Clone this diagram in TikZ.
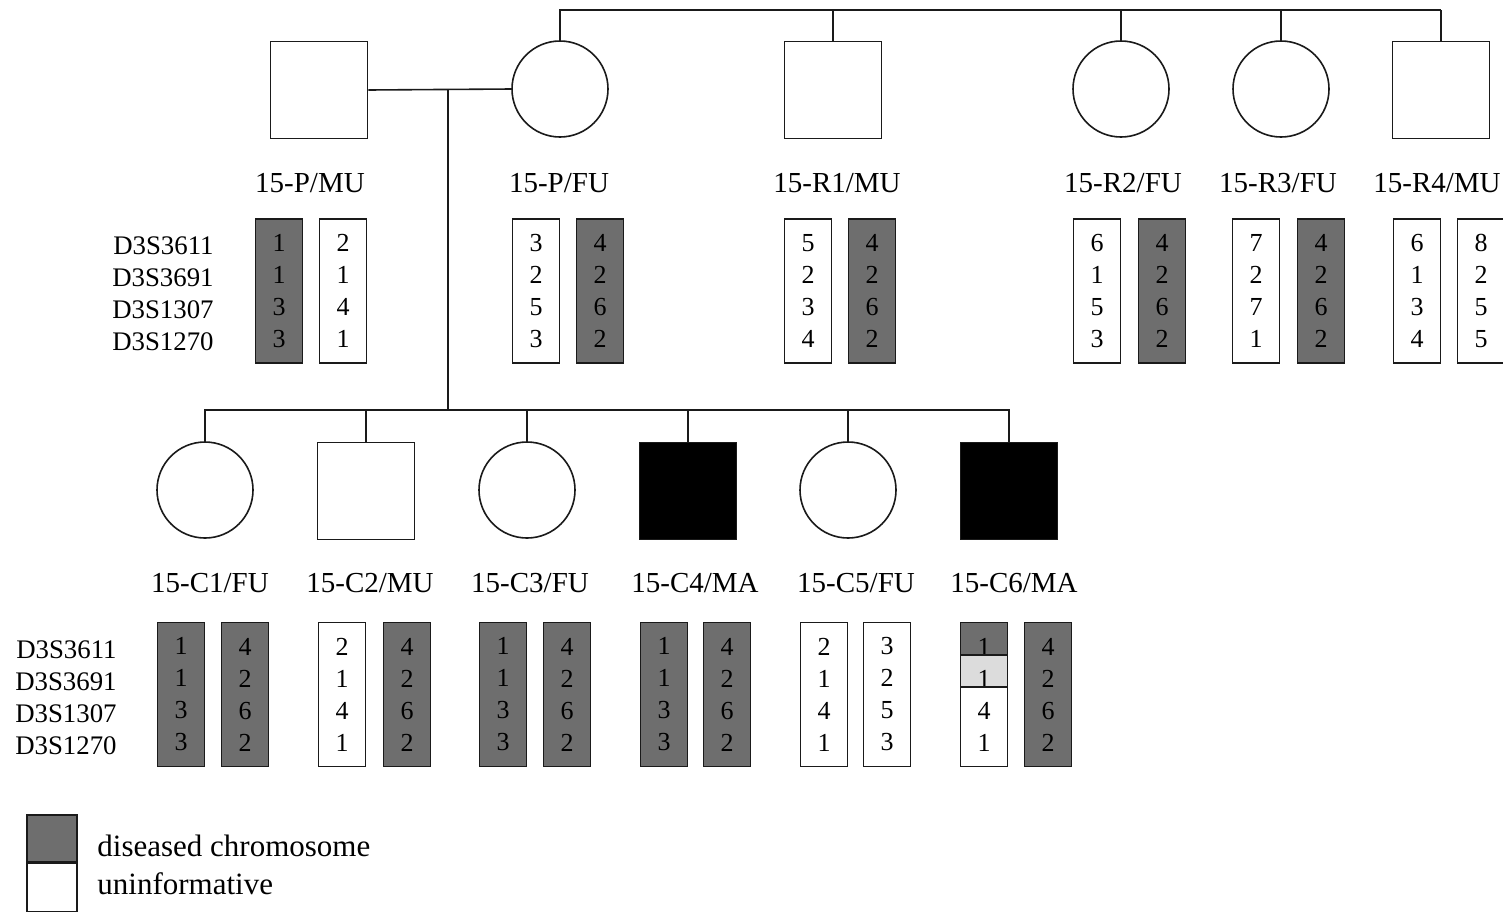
\documentclass[tikz,border=0pt]{standalone}
\usepackage{fontspec}
\setmainfont{Liberation Serif}
\usetikzlibrary{positioning}
\definecolor{ink}{HTML}{1A1A1A}
\definecolor{sick}{HTML}{6E6E6E}
\definecolor{faint}{HTML}{DCDCDC}

\begin{document}
\begin{tikzpicture}[x=0.5pt,y=-0.5pt,
  male/.style={draw=ink,line width=0.8pt,minimum size=48.5pt,inner sep=0pt},
  female/.style={draw=ink,circle,line width=0.8pt,minimum size=48pt,inner sep=0pt},
  aff/.style={male,fill=black},
  tag/.style={font=\fontsize{14.5}{16}\selectfont,inner sep=0pt},
  key/.style={font=\fontsize{15.5}{17}\selectfont,inner sep=0pt,anchor=west},
  hap/.style={draw=ink,line width=0.8pt,minimum width=23.5pt,minimum height=72pt,inner sep=0pt,align=center,font=\fontsize{13}{16}\selectfont},
  hapd/.style={hap,fill=sick},
  mk/.style={align=right,anchor=east,inner sep=0pt,font=\fontsize{13.4}{16}\selectfont},
  link/.style={draw=ink,line width=0.8pt}
]
\useasboundingbox (0,0) rectangle (1503,911);
% parents and sibs
\node[male] (pmu) at (319,90) {};
\node[female] (pfu) at (560,89) {};
\node[male] (r1) at (833,90) {};
\node[female] (r2) at (1121,89) {};
\node[female] (r3) at (1281,89) {};
\node[male] (r4) at (1441,90) {};
\coordinate (gp) at (1441,10);
\coordinate (mar) at (448,89);
\coordinate (kids) at (448,410);
\draw[link] (pmu.east) -- (pfu.west);
\draw[link] (mar) -- (kids);
\draw[link] (pfu.north) |- (gp); \draw[link] (r1.north) |- (gp);
\draw[link] (r2.north) |- (gp); \draw[link] (r3.north) |- (gp);
\draw[link] (r4.north) -- (gp);

\node[tag] (lpmu) at (310,183) {15-P/MU};
\node[tag] (lpfu) at (559,183) {15-P/FU};
\node[tag] (lr1) at (837,183) {15-R1/MU};
\node[tag] (lr2) at (1123,183) {15-R2/FU};
\node[tag] (lr3) at (1278,183) {15-R3/FU};
\node[tag] (lr4) at (1437,183) {15-R4/MU};

\node[mk] (mtop) at (214,294) {D3S3611\\D3S3691\\D3S1307\\D3S1270};
\node[hapd] (hpmu1) at (279,291) {1\\1\\3\\3};
\node[hap] (hpmu2) at (343,291) {2\\1\\4\\1};
\node[hap] (hpfu1) at (536,291) {3\\2\\5\\3};
\node[hapd] (hpfu2) at (600,291) {4\\2\\6\\2};
\node[hap] (hr11) at (808,291) {5\\2\\3\\4};
\node[hapd] (hr12) at (872,291) {4\\2\\6\\2};
\node[hap] (hr21) at (1097,291) {6\\1\\5\\3};
\node[hapd] (hr22) at (1162,291) {4\\2\\6\\2};
\node[hap] (hr31) at (1256,291) {7\\2\\7\\1};
\node[hapd] (hr32) at (1321,291) {4\\2\\6\\2};
\node[hap] (hr41) at (1417,291) {6\\1\\3\\4};
\node[hap] (hr42) at (1481,291) {8\\2\\5\\5};

% children
\node[female] (c1) at (205,490) {};
\node[male] (c2) at (366,491) {};
\node[female] (c3) at (527,490) {};
\node[aff] (c4) at (688,491) {};
\node[female] (c5) at (848,490) {};
\node[aff] (c6) at (1009,491) {};
\draw[link] (c1.north) |- (kids); \draw[link] (c2.north) |- (kids);
\draw[link] (c3.north) |- (kids); \draw[link] (c4.north) |- (kids);
\draw[link] (c5.north) |- (kids); \draw[link] (c6.north) |- (kids);

\node[tag] (lc1) at (210,583) {15-C1/FU};
\node[tag] (lc2) at (370,583) {15-C2/MU};
\node[tag] (lc3) at (530,583) {15-C3/FU};
\node[tag] (lc4) at (695,583) {15-C4/MA};
\node[tag] (lc5) at (856,583) {15-C5/FU};
\node[tag] (lc6) at (1014,583) {15-C6/MA};

\node[mk] (mbot) at (117,698) {D3S3611\\D3S3691\\D3S1307\\D3S1270};
\node[hapd] (hc11) at (181,694.5) {1\\1\\3\\3};
\node[hapd] (hc12) at (245,694.5) {4\\2\\6\\2};
\node[hap] (hc21) at (342,694.5) {2\\1\\4\\1};
\node[hapd] (hc22) at (407,694.5) {4\\2\\6\\2};
\node[hapd] (hc31) at (503,694.5) {1\\1\\3\\3};
\node[hapd] (hc32) at (567,694.5) {4\\2\\6\\2};
\node[hapd] (hc41) at (664,694.5) {1\\1\\3\\3};
\node[hapd] (hc42) at (727,694.5) {4\\2\\6\\2};
\node[hap] (hc51) at (824,694.5) {2\\1\\4\\1};
\node[hap] (hc52) at (887,694.5) {3\\2\\5\\3};
% recombinant chromosome
\fill[sick] (960.5,622.5) rectangle (1007.5,655);
\fill[faint] (960.5,655) rectangle (1007.5,687);
\node[hap] (hc61) at (984,694.5) {1\\1\\4\\1};
\draw[link] (960.5,655) -- (1007.5,655);
\draw[link] (960.5,687) -- (1007.5,687);
\node[hapd] (hc62) at (1048,694.5) {4\\2\\6\\2};

% legend
\node[draw=ink,line width=0.8pt,fill=sick,minimum width=25pt,minimum height=23.5pt,inner sep=0pt] (lgd) at (52,838.5) {};
\node[draw=ink,line width=0.8pt,minimum width=25pt,minimum height=24pt,inner sep=0pt,below=0pt of lgd] (lgu) {};
\node[key] (tlgd) at (97,846) {diseased chromosome};
\node[key] (tlgu) at (97,884) {uninformative};
\end{tikzpicture}
\end{document}
